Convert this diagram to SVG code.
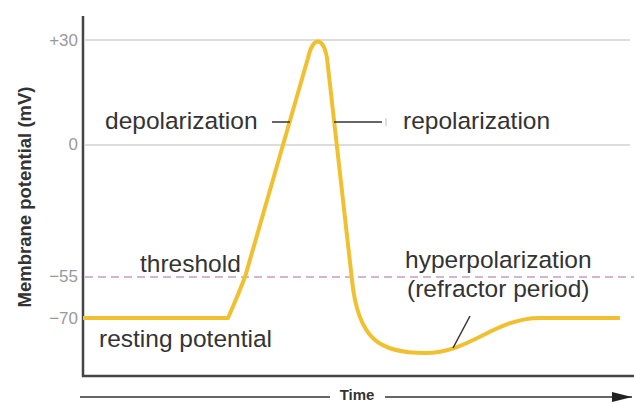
<svg xmlns="http://www.w3.org/2000/svg" width="634" height="404" viewBox="0 0 634 404">
<defs>
<style>
.lbl{font-family:"Liberation Sans",Arial,sans-serif;font-size:24.5px;fill:#333}
.tick{font-family:"Liberation Sans",Arial,sans-serif;font-size:17px;fill:#999;text-anchor:end}
.ax{font-family:"Liberation Sans",Arial,sans-serif;font-weight:bold;fill:#333}
.grid{stroke:#dddddd;stroke-width:2;fill:none}
.call{stroke:#333;stroke-width:1.5;fill:none}
</style>
<marker id="arr" markerWidth="20" markerHeight="10" refX="20" refY="5" orient="auto" markerUnits="userSpaceOnUse">
<path d="M0,0 L20,5 L0,10 Z" fill="#222"/>
</marker>
</defs>
<rect width="634" height="404" fill="#fff"/>
<g id="grid">
<line class="grid" x1="85" y1="40" x2="630" y2="40"/>
<line class="grid" x1="85" y1="145" x2="630" y2="145"/>
<line x1="85" y1="277" x2="634" y2="277" stroke="#c79ac7" stroke-width="1.5" stroke-dasharray="8,5"/>
</g>
<g id="axes">
<line x1="83" y1="16" x2="83" y2="377" stroke="#444" stroke-width="2.5"/>
<line x1="82" y1="376" x2="634" y2="376" stroke="#444" stroke-width="2.5"/>
<text class="tick" x="78" y="46">+30</text>
<text class="tick" x="78" y="150">0</text>
<text class="tick" x="78" y="282">−55</text>
<text class="tick" x="78" y="324">−70</text>
<text class="ax" font-size="18.5" text-anchor="middle" transform="translate(31,197) rotate(-90)">Membrane potential (mV)</text>
</g>
<g id="time-axis">
<line x1="80" y1="397" x2="330" y2="397" stroke="#666" stroke-width="2"/>
<line x1="385" y1="397" x2="632" y2="397" stroke="#666" stroke-width="2" marker-end="url(#arr)"/>
<text class="ax" font-size="15" x="357" y="400" text-anchor="middle">Time</text>
</g>
<g id="curve">
<path d="M83,318 L228,318 Q236,300 245,277 L308,58 C313,36 323,36 327,58 L352,280 C358,340 380,353 425,353 C470,353 495,318 540,318 L620,318" fill="none" stroke="#f0c030" stroke-width="4" stroke-linejoin="round"/>
</g>
<g id="connectors">
<line class="call" x1="272" y1="122" x2="290" y2="122"/>
<line class="call" x1="334" y1="122" x2="382" y2="122"/>
<line x1="386" y1="118" x2="386" y2="126" stroke="#bbb" stroke-width="1"/>
<line class="call" x1="470" y1="316" x2="453" y2="348"/>
</g>
<g id="labels">
<text class="lbl" x="105" y="129">depolarization</text>
<text class="lbl" x="403" y="129">repolarization</text>
<text class="lbl" x="140" y="272">threshold</text>
<text class="lbl" x="99" y="347">resting potential</text>
<text class="lbl" x="405" y="268">hyperpolarization</text>
<text class="lbl" x="407" y="297">(refractor period)</text>
</g>
</svg>
